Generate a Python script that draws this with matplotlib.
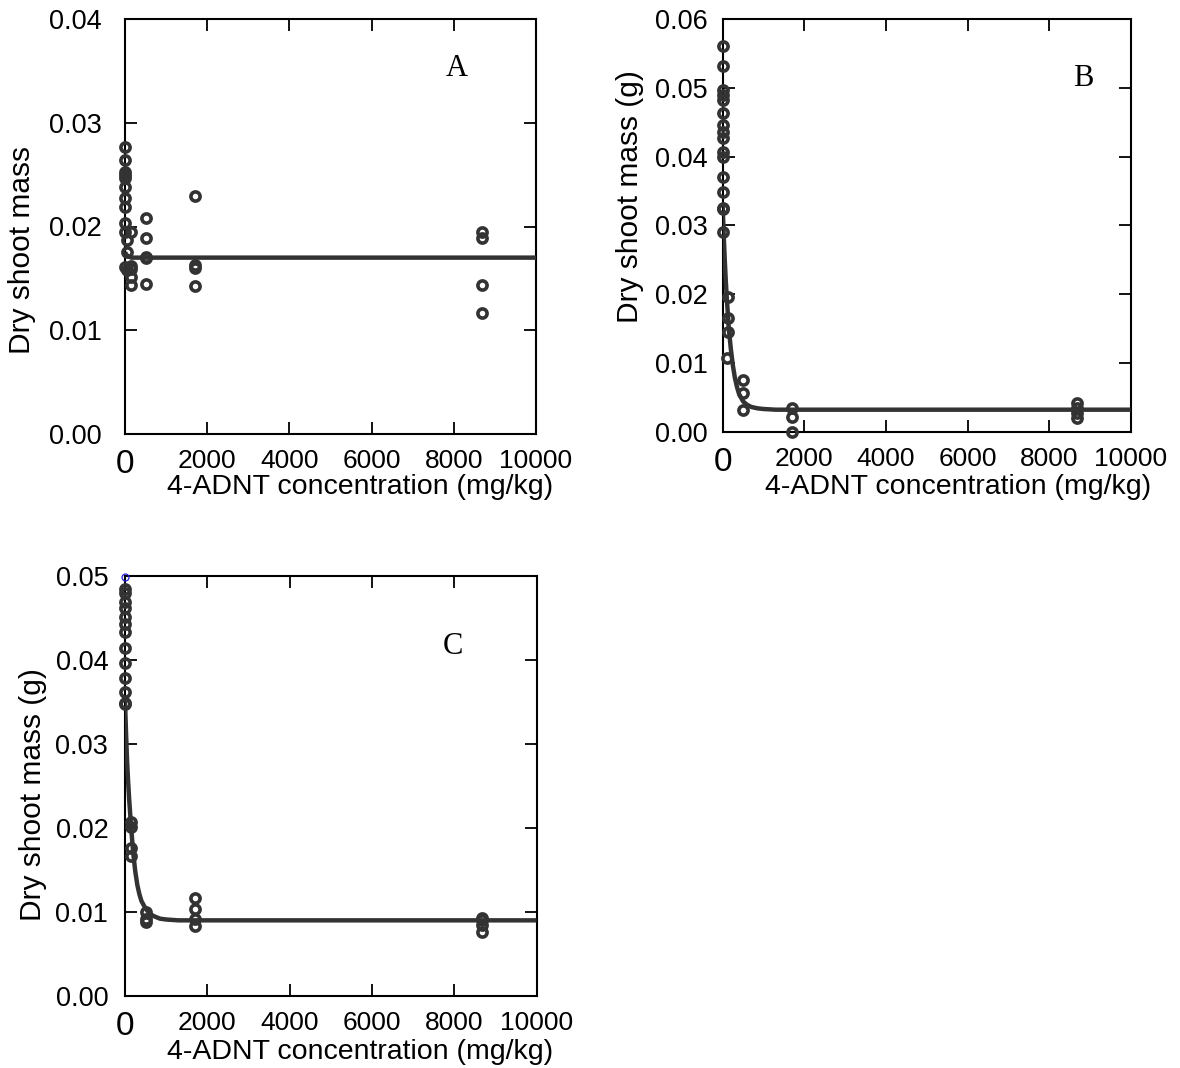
import matplotlib
matplotlib.use("Agg")
import matplotlib.pyplot as plt

plt.rcParams['font.family'] = ['Liberation Sans', 'DejaVu Sans']

# ---------------- data ----------------
# Panel A
A_x = [0]*11 + [40]*3 + [140]*5 + [500]*5 + [1700]*4 + [8680]*4
A_y = [0.0277, 0.0264, 0.0253, 0.0250, 0.0247, 0.0238, 0.0227, 0.0219, 0.0203, 0.0195, 0.0161,
       0.0187, 0.0175, 0.0158,
       0.0195, 0.0162, 0.0159, 0.0151, 0.0144,
       0.0208, 0.0189, 0.0170, 0.0171, 0.0145,
       0.0229, 0.0163, 0.0160, 0.0143,
       0.0195, 0.0189, 0.0144, 0.0117]
A_fit_x = [0, 50, 150, 10000]
A_fit_y = [0.0175, 0.0172, 0.0170, 0.0170]

# Panel B
B_x = [0]*16 + [140, 140, 140, 100] + [500]*3 + [1700]*3 + [8680]*4
B_y = [0.0561, 0.0531, 0.0497, 0.0490, 0.0482, 0.0463, 0.0446, 0.0436, 0.0427, 0.0407, 0.0400,
       0.0371, 0.0349, 0.0325, 0.0324, 0.0291,
       0.0196, 0.0165, 0.0145, 0.0107,
       0.0075, 0.0056, 0.0032,
       0.0034, 0.0021, 0.0000,
       0.0041, 0.0035, 0.0027, 0.0020]
B_fit_x = [0, 25, 50, 75, 100, 150, 200, 250, 300, 350, 400, 500, 600, 700, 850, 1000, 1300, 10000]
B_fit_y = [0.0327, 0.0285, 0.0250, 0.0220, 0.0195, 0.0150, 0.0120, 0.0096, 0.0078, 0.0065, 0.0055,
           0.0044, 0.0039, 0.0036, 0.0034, 0.0033, 0.0032, 0.0032]

# Panel C
C_x = [0]*13 + [140]*4 + [500]*3 + [1700]*4 + [8680]*4
C_y = [0.0484, 0.0479, 0.0469, 0.0461, 0.0451, 0.0443, 0.0433, 0.0414, 0.0396, 0.0378, 0.0362,
       0.0348, 0.0347,
       0.0207, 0.0201, 0.0176, 0.0167,
       0.0100, 0.0092, 0.0088,
       0.0117, 0.0103, 0.0092, 0.0083,
       0.0093, 0.0090, 0.0085, 0.0076]
C_outlier_x = [0]
C_outlier_y = [0.0498]
C_fit_x = [0, 25, 50, 75, 100, 150, 200, 250, 300, 350, 400, 500, 600, 700, 850, 1000, 1300, 10000]
C_fit_y = [0.0350, 0.0313, 0.0280, 0.0256, 0.0235, 0.0200, 0.0170, 0.0148, 0.0132, 0.0121, 0.0113,
           0.0104, 0.0098, 0.0095, 0.0092, 0.0091, 0.0090, 0.0090]

x_ticks = [0, 2000, 4000, 6000, 8000, 10000]
x_labels = ['0', '2000', '4000', '6000', '8000', '10000']
xlabel = '4-ADNT concentration (mg/kg)'

W, H = 1180, 1068
fig = plt.figure(figsize=(W/100, H/100), dpi=100)

def px_axes(l, r, t, b):
    return fig.add_axes([l/W, 1-b/H, (r-l)/W, (b-t)/H])

dark = '#333333'

def style(ax, ymax, ystep, ylabel, ypad, xl_pos, yl_pos):
    ax.set_xlim(0, 10000)
    ax.set_ylim(0, ymax)
    yt = [round(i*ystep, 3) for i in range(int(round(ymax/ystep))+1)]
    ax.set_yticks(yt, [f'{v:.2f}' for v in yt])
    ax.set_xticks(x_ticks, x_labels)
    ax.tick_params(direction='in', length=8.6, width=1.3, top=True, right=True,
                   colors='black')
    ax.tick_params(axis='y', labelsize=19.5, pad=ypad)
    ax.tick_params(axis='x', labelsize=19, pad=11)
    ax.get_xticklabels()[0].set_fontsize(24)
    for s in ax.spines.values():
        s.set_linewidth(1.5)
    ax.set_xlabel(xlabel, fontsize=20.5)
    ax.xaxis.label.set_va('center')
    ax.xaxis.set_label_coords(*xl_pos)
    ax.set_ylabel(ylabel, fontsize=21.5)
    ax.yaxis.label.set_va('center')
    ax.yaxis.set_label_coords(*yl_pos)

def draw(ax, x, y, fx, fy):
    ax.plot(fx, fy, '-', color=dark, lw=3.2, zorder=3, solid_capstyle='butt',
            solid_joinstyle='round')
    ax.plot(x, y, 'o', ls='none', ms=6.6, mfc='none', mec=dark, mew=2.6,
            zorder=4, clip_on=False)

# Panel A
axA = px_axes(125, 536, 19, 434)
draw(axA, A_x, A_y, A_fit_x, A_fit_y)
style(axA, 0.04, 0.01, 'Dry shoot mass', 16.5,
      ((360-125)/411, (434-487)/415), ((22-125)/411, (434-250)/415))

# Panel B
axB = px_axes(722.7, 1130.7, 19, 431.7)
draw(axB, B_x, B_y, B_fit_x, B_fit_y)
style(axB, 0.06, 0.01, 'Dry shoot mass (g)', 10.5,
      ((958-722.7)/408, (431.7-487)/412.7), ((630-722.7)/408, (431.7-197)/412.7))

# Panel C
axC = px_axes(125, 536.5, 575.7, 996)
draw(axC, C_x, C_y, C_fit_x, C_fit_y)
axC.plot(C_outlier_x, C_outlier_y, 'o', ls='none', ms=5, mfc='none', mec='#2222dd',
         mew=0.9, zorder=5, clip_on=False)
style(axC, 0.05, 0.01, 'Dry shoot mass (g)', 12,
      ((360-125)/411.5, (996-1052)/420.3), ((33-125)/411.5, (996-795)/420.3))

# Panel letters
for lab, (px, py) in zip(['A', 'B', 'C'], [(457, 69), (1083, 79), (453, 647)]):
    fig.text(px/W, 1-py/H, lab, fontsize=22, family='Liberation Serif',
             ha='center', va='center')

fig.savefig('out.png', dpi=100)
